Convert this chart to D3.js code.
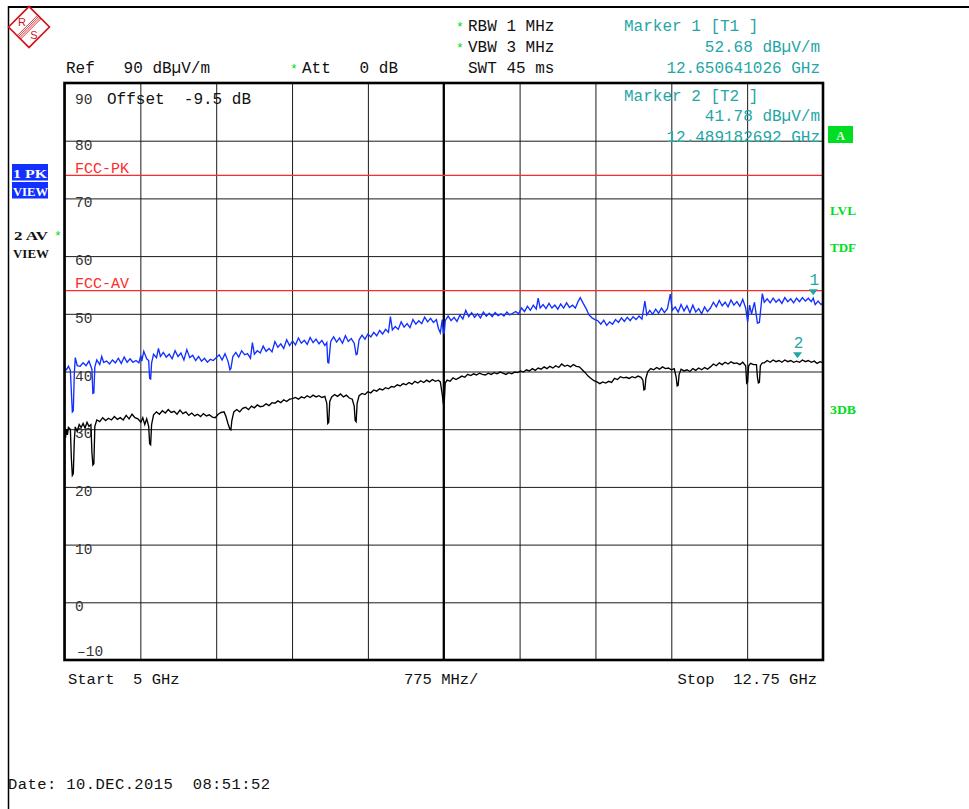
<!DOCTYPE html>
<html><head><meta charset="utf-8">
<script src="https://cdn.jsdelivr.net/npm/d3@7/dist/d3.min.js"></script>
<style>
html,body{margin:0;padding:0;background:#fff;}
svg{display:block;}
text{font-family:"Liberation Mono","DejaVu Sans Mono",monospace;white-space:pre;}
</style></head>
<body>
<svg id="c" width="969" height="809"></svg>
<script>
// ---------- data ----------
const startGHz = 5, stopGHz = 12.75;
const refLevel = 90, bottomLevel = -10;
const xGridGHz = [5, 5.775, 6.55, 7.325, 8.1, 8.875, 9.65, 10.425, 11.2, 11.975, 12.75];
const yTicks = [90, 80, 70, 60, 50, 40, 30, 20, 10, 0, -10];
const yTickLabels = ["90", "80", "70", "60", "50", "40", "30", "20", "10", "0", "\u201310"];
const limitNames = ["FCC-PK", "FCC-AV"];
const limitValues = [74, 54];
const markerNames = ["1", "2"];
const markerGHz = [12.650641026, 12.489182692];
const markerDb = [52.68, 41.78];
const headerLeft = ["RBW 1 MHz", "VBW 3 MHz", "SWT 45 ms"];
const markerText = ["Marker 1 [T1 ]", "52.68 dB\u00B5V/m", "12.650641026 GHz", "Marker 2 [T2 ]", "41.78 dB\u00B5V/m", "12.489182692 GHz"];

const pkTrace = [[5.00,40.6],[5.02,40.3],[5.04,40.9],[5.06,40.2],[5.07,36.5],[5.08,33.0],[5.09,33.2],[5.10,39.5],[5.11,42.4],[5.13,41.0],[5.16,40.9],[5.19,41.5],[5.22,41.0],[5.25,41.8],[5.28,40.4],[5.29,36.2],[5.30,36.3],[5.31,40.8],[5.33,42.0],[5.36,41.2],[5.38,42.6],[5.40,41.6],[5.43,41.8],[5.46,41.3],[5.49,42.0],[5.52,41.5],[5.55,42.3],[5.58,41.4],[5.61,42.5],[5.64,41.6],[5.67,42.2],[5.70,41.6],[5.73,41.9],[5.76,41.5],[5.78,42.8],[5.79,41.8],[5.81,43.5],[5.84,42.2],[5.86,41.9],[5.87,38.8],[5.88,38.7],[5.89,41.5],[5.91,43.0],[5.94,42.4],[5.96,44.0],[5.98,42.6],[6.01,43.3],[6.04,42.5],[6.07,43.0],[6.10,42.2],[6.13,43.6],[6.16,42.6],[6.19,43.2],[6.22,42.0],[6.25,43.8],[6.28,42.4],[6.31,42.8],[6.34,41.9],[6.37,42.6],[6.40,41.8],[6.43,42.3],[6.46,41.6],[6.49,42.1],[6.52,41.9],[6.55,42.4],[6.58,42.9],[6.61,42.0],[6.64,43.1],[6.67,41.8],[6.69,40.3],[6.70,40.5],[6.72,42.6],[6.75,43.3],[6.78,42.5],[6.81,43.6],[6.84,42.9],[6.87,43.1],[6.90,42.3],[6.92,45.0],[6.94,43.0],[6.97,43.6],[7.00,43.2],[7.03,44.4],[7.06,43.5],[7.09,44.0],[7.12,43.4],[7.15,45.2],[7.18,44.2],[7.21,44.8],[7.24,44.0],[7.27,45.5],[7.30,44.5],[7.33,45.3],[7.36,44.6],[7.39,45.8],[7.42,44.9],[7.45,45.4],[7.48,44.7],[7.51,45.9],[7.54,45.0],[7.57,45.6],[7.60,44.8],[7.63,45.4],[7.66,44.5],[7.68,45.0],[7.69,41.6],[7.70,41.5],[7.72,45.2],[7.75,46.0],[7.78,45.1],[7.81,45.8],[7.84,44.9],[7.87,46.2],[7.90,45.2],[7.93,45.7],[7.96,44.9],[7.98,42.9],[7.99,43.0],[8.01,45.5],[8.04,46.3],[8.07,45.6],[8.10,46.5],[8.13,46.0],[8.16,46.8],[8.19,46.2],[8.22,47.1],[8.25,46.5],[8.28,47.3],[8.31,46.8],[8.33,49.5],[8.35,47.2],[8.38,47.8],[8.41,47.3],[8.44,48.6],[8.47,47.7],[8.50,48.3],[8.53,47.6],[8.56,49.0],[8.59,48.2],[8.62,48.8],[8.65,48.3],[8.68,49.4],[8.71,48.6],[8.74,49.2],[8.77,48.5],[8.80,49.0],[8.82,47.5],[8.84,46.7],[8.86,49.0],[8.87,46.8],[8.88,46.6],[8.89,48.8],[8.92,49.6],[8.95,48.8],[8.98,49.4],[9.01,48.7],[9.04,49.8],[9.07,49.1],[9.10,50.6],[9.13,49.5],[9.16,50.2],[9.19,49.4],[9.22,50.0],[9.25,49.3],[9.28,50.3],[9.31,49.6],[9.34,50.1],[9.37,49.5],[9.40,50.2],[9.43,49.7],[9.46,50.0],[9.49,49.6],[9.52,50.3],[9.55,49.8],[9.58,50.1],[9.61,50.4],[9.64,50.0],[9.67,51.0],[9.70,50.4],[9.73,51.3],[9.76,50.6],[9.79,51.5],[9.82,50.8],[9.84,52.7],[9.86,51.0],[9.89,51.6],[9.92,50.9],[9.95,51.8],[9.98,51.0],[10.01,51.5],[10.04,50.8],[10.07,51.7],[10.10,51.0],[10.13,51.9],[10.16,51.1],[10.19,51.5],[10.22,51.0],[10.25,52.2],[10.27,52.8],[10.30,51.8],[10.33,50.9],[10.36,49.8],[10.39,49.3],[10.42,49.0],[10.45,48.8],[10.48,48.2],[10.51,48.9],[10.54,48.0],[10.57,48.6],[10.60,48.2],[10.63,49.0],[10.66,48.5],[10.69,49.3],[10.72,48.7],[10.75,49.4],[10.78,48.8],[10.81,49.5],[10.84,49.0],[10.87,49.6],[10.90,49.1],[10.93,52.2],[10.95,49.8],[10.98,50.6],[11.01,49.9],[11.04,50.8],[11.07,50.1],[11.10,51.0],[11.13,50.2],[11.16,50.9],[11.19,53.4],[11.21,50.6],[11.24,51.2],[11.27,50.3],[11.30,51.6],[11.33,50.5],[11.36,51.4],[11.39,50.2],[11.42,51.5],[11.45,50.3],[11.48,50.9],[11.51,50.0],[11.54,51.2],[11.57,50.4],[11.60,51.0],[11.63,52.0],[11.66,51.2],[11.69,52.3],[11.72,51.4],[11.75,52.0],[11.78,51.2],[11.81,52.4],[11.84,51.5],[11.87,52.1],[11.90,51.3],[11.93,52.5],[11.96,51.0],[11.98,48.6],[12.00,51.5],[12.02,50.0],[12.05,52.0],[12.08,48.4],[12.10,48.5],[12.12,51.8],[12.13,53.5],[12.15,52.0],[12.18,52.6],[12.21,51.9],[12.24,52.7],[12.27,52.0],[12.30,52.5],[12.33,51.8],[12.36,52.8],[12.39,52.1],[12.42,52.6],[12.45,51.9],[12.48,52.7],[12.51,52.1],[12.54,52.8],[12.57,52.2],[12.60,52.7],[12.63,52.1],[12.65,52.7],[12.67,51.6],[12.70,52.2],[12.73,51.6],[12.75,51.9]];

const avTrace = [[5.00,30.2],[5.01,28.5],[5.02,30.0],[5.03,29.0],[5.04,30.3],[5.06,30.0],[5.07,25.0],[5.08,22.0],[5.09,22.3],[5.10,28.0],[5.11,30.4],[5.13,29.6],[5.15,30.8],[5.17,30.3],[5.19,31.0],[5.21,30.2],[5.23,31.2],[5.25,30.5],[5.27,30.8],[5.28,26.0],[5.29,23.8],[5.30,24.0],[5.31,30.5],[5.33,31.6],[5.36,31.3],[5.39,32.0],[5.42,31.5],[5.45,31.9],[5.48,31.6],[5.51,32.2],[5.54,31.7],[5.57,32.0],[5.60,31.6],[5.63,32.4],[5.66,31.8],[5.69,32.6],[5.72,32.0],[5.75,31.8],[5.78,31.2],[5.80,32.0],[5.82,30.8],[5.84,31.8],[5.86,30.5],[5.87,27.5],[5.88,27.3],[5.89,30.8],[5.91,32.5],[5.94,33.0],[5.97,32.6],[6.00,33.2],[6.03,32.8],[6.06,33.4],[6.09,32.9],[6.12,33.1],[6.15,32.6],[6.18,33.3],[6.21,32.7],[6.24,33.0],[6.27,32.4],[6.30,32.8],[6.33,32.3],[6.36,32.6],[6.39,32.2],[6.42,32.7],[6.45,32.3],[6.48,32.5],[6.51,32.1],[6.54,32.0],[6.57,32.6],[6.60,32.9],[6.63,33.0],[6.65,32.2],[6.67,31.0],[6.69,30.0],[6.70,29.9],[6.71,31.5],[6.73,33.0],[6.76,33.4],[6.79,33.0],[6.82,33.6],[6.85,33.8],[6.88,33.4],[6.91,34.0],[6.94,33.7],[6.97,34.2],[7.00,33.9],[7.03,34.0],[7.06,34.4],[7.09,34.1],[7.12,34.6],[7.15,34.5],[7.18,34.9],[7.21,34.6],[7.24,35.1],[7.27,34.8],[7.30,35.2],[7.33,35.3],[7.36,35.5],[7.39,35.2],[7.42,35.6],[7.45,35.4],[7.48,35.8],[7.51,35.5],[7.54,35.9],[7.57,35.6],[7.60,35.8],[7.63,35.5],[7.66,35.7],[7.68,34.5],[7.69,31.0],[7.70,31.2],[7.71,34.8],[7.73,35.6],[7.76,36.0],[7.79,35.7],[7.82,36.1],[7.85,35.6],[7.88,35.9],[7.91,35.4],[7.94,35.2],[7.96,34.0],[7.97,31.5],[7.98,31.3],[7.99,34.5],[8.01,35.8],[8.04,36.2],[8.07,36.0],[8.10,36.5],[8.13,36.3],[8.16,36.8],[8.19,36.6],[8.22,37.0],[8.25,36.8],[8.28,37.2],[8.31,37.0],[8.34,37.4],[8.37,37.3],[8.40,37.7],[8.43,37.5],[8.46,37.9],[8.49,37.7],[8.52,38.1],[8.55,37.8],[8.58,38.3],[8.61,38.0],[8.64,38.4],[8.67,38.1],[8.70,38.5],[8.73,38.2],[8.76,38.6],[8.79,38.3],[8.82,38.5],[8.84,38.2],[8.86,36.0],[8.87,34.5],[8.88,34.6],[8.89,38.0],[8.91,38.5],[8.94,38.3],[8.97,38.9],[9.00,38.6],[9.03,38.9],[9.06,39.2],[9.09,39.0],[9.12,39.5],[9.15,39.3],[9.18,39.6],[9.21,39.4],[9.24,39.7],[9.27,39.5],[9.30,39.4],[9.33,39.7],[9.36,39.5],[9.39,39.8],[9.42,39.6],[9.45,39.9],[9.48,39.7],[9.51,39.5],[9.54,39.8],[9.57,39.6],[9.60,39.9],[9.63,39.8],[9.66,40.1],[9.69,39.9],[9.72,40.3],[9.75,40.1],[9.78,40.5],[9.81,40.2],[9.84,40.6],[9.87,40.4],[9.90,40.8],[9.93,40.5],[9.96,40.9],[9.99,40.6],[10.02,41.0],[10.05,40.7],[10.08,41.3],[10.11,40.9],[10.14,41.1],[10.17,40.8],[10.20,41.2],[10.23,40.9],[10.26,40.8],[10.29,40.3],[10.32,39.8],[10.35,39.2],[10.38,38.8],[10.41,38.4],[10.44,38.2],[10.47,37.9],[10.50,38.2],[10.53,38.0],[10.56,38.3],[10.59,38.1],[10.62,38.8],[10.65,38.6],[10.68,39.1],[10.71,38.9],[10.74,39.0],[10.77,38.8],[10.80,39.1],[10.83,38.9],[10.86,39.2],[10.89,39.0],[10.91,38.5],[10.92,36.8],[10.93,36.9],[10.94,38.8],[10.96,40.0],[10.99,40.5],[11.02,40.3],[11.05,40.7],[11.08,40.4],[11.11,40.8],[11.14,40.5],[11.17,40.6],[11.20,40.3],[11.23,40.5],[11.25,39.0],[11.26,37.5],[11.27,37.6],[11.28,39.5],[11.30,40.4],[11.33,40.1],[11.36,40.3],[11.39,40.0],[11.42,40.5],[11.45,40.2],[11.48,40.6],[11.51,40.3],[11.54,40.7],[11.57,40.4],[11.60,40.8],[11.63,41.3],[11.66,41.0],[11.69,41.5],[11.72,41.2],[11.75,41.6],[11.78,41.3],[11.81,41.7],[11.84,41.4],[11.87,41.5],[11.90,41.2],[11.93,41.6],[11.96,41.0],[11.97,38.0],[11.98,38.2],[11.99,41.0],[12.01,41.4],[12.04,41.2],[12.07,41.2],[12.08,39.0],[12.09,38.0],[12.10,38.1],[12.11,41.0],[12.13,41.5],[12.15,41.5],[12.18,41.9],[12.21,41.6],[12.24,42.0],[12.27,41.7],[12.30,41.9],[12.33,41.6],[12.36,42.0],[12.39,41.7],[12.42,41.9],[12.45,41.6],[12.48,41.8],[12.51,41.6],[12.54,42.0],[12.57,41.7],[12.60,41.9],[12.63,41.6],[12.66,41.8],[12.69,41.4],[12.72,41.7],[12.75,41.5]];

// ---------- drawing ----------
const svg = d3.select("#c");
const L = 64.5, R = 823, T = 83, B = 660;
const x = d3.scaleLinear().domain([startGHz, stopGHz]).range([L, R]);
const y = d3.scaleLinear().domain([bottomLevel, refLevel]).range([B, T]);

const TEAL = "#1fa6a6", RED = "#ff2a2a", GREEN = "#00dd22", BLUE = "#1230ff";

// page frame
svg.append("line").attr("x1", 8).attr("x2", 969).attr("y1", 7).attr("y2", 7).attr("stroke", "#000").attr("stroke-width", 2.2);
svg.append("line").attr("x1", 8.5).attr("x2", 8.5).attr("y1", 6).attr("y2", 809).attr("stroke", "#000").attr("stroke-width", 1.5);

// R&S logo
const logo = svg.append("g").attr("transform", "translate(29,27)");
logo.append("rect").attr("x", -14.5).attr("y", -14.5).attr("width", 29).attr("height", 29)
  .attr("transform", "rotate(45)").attr("fill", "none").attr("stroke", "#d0141e").attr("stroke-width", 1.6);
[-2.2, -0.6, 1.0, 2.6].forEach(o => {
  logo.append("line").attr("x1", -14.5).attr("x2", 14.5).attr("y1", o).attr("y2", o)
    .attr("transform", "rotate(-45)").attr("stroke", "#d0141e").attr("stroke-width", 0.8);
});
logo.append("text").attr("x", -7).attr("y", -1).attr("text-anchor", "middle").attr("fill", "#d0141e")
  .style("font-family", "'Liberation Sans',Arial,sans-serif").style("font-size", "11px").text("R");
logo.append("text").attr("x", 5).attr("y", 11.5).attr("text-anchor", "middle").attr("fill", "#d0141e")
  .style("font-family", "'Liberation Sans',Arial,sans-serif").style("font-size", "11px").text("S");

// grid via axes
const gx = svg.append("g").attr("transform", `translate(0,${B})`)
  .call(d3.axisBottom(x).tickValues(xGridGHz).tickSize(-(B - T)).tickFormat(""));
gx.select(".domain").remove();
gx.selectAll("line").attr("stroke", "#1a1a1a").attr("stroke-width", 1);
const gy = svg.append("g").attr("transform", `translate(${L},0)`)
  .call(d3.axisLeft(y).tickValues(yTicks).tickSize(-(R - L)).tickFormat(""));
gy.select(".domain").remove();
gy.selectAll("line").attr("stroke", "#1a1a1a").attr("stroke-width", 1);
// centre line
svg.append("line").attr("x1", x(xGridGHz[5])).attr("x2", x(xGridGHz[5])).attr("y1", T).attr("y2", B)
  .attr("stroke", "#000").attr("stroke-width", 2.2);

// y tick labels
svg.append("g").selectAll("text").data(yTicks).join("text")
  .attr("x", (d) => d === -10 ? 77 : 75)
  .attr("y", (d) => d === 90 ? y(d) + 21 : (d === -10 ? y(d) - 4 : y(d) + 9))
  .attr("fill", "#333").style("font-size", "14.5px")
  .text((d, i) => yTickLabels[i]);
svg.append("text").attr("x", 107).attr("y", 104).attr("fill", "#111").style("font-size", "16px")
  .text("Offset  -9.5 dB");

// limit lines
limitValues.forEach((v, i) => {
  svg.append("line").attr("x1", L).attr("x2", R).attr("y1", y(v)).attr("y2", y(v))
    .attr("stroke", RED).attr("stroke-width", 1.2);
  svg.append("text").attr("x", 75).attr("y", y(v) - 2.5).attr("fill", RED).style("font-size", "15px").text(limitNames[i]);
});

// traces
svg.append("clipPath").attr("id", "clip").append("rect").attr("x", L).attr("y", T).attr("width", R - L).attr("height", B - T);
const line = d3.line().x(d => x(d[0])).y(d => y(d[1]));
svg.append("path").datum(avTrace).attr("d", line).attr("fill", "none").attr("stroke", "#000")
  .attr("stroke-width", 1.35).attr("clip-path", "url(#clip)");
svg.append("path").datum(pkTrace).attr("d", line).attr("fill", "none").attr("stroke", BLUE)
  .attr("stroke-width", 1.35).attr("clip-path", "url(#clip)");

// plot border
svg.append("rect").attr("x", L).attr("y", T).attr("width", R - L).attr("height", B - T)
  .attr("fill", "none").attr("stroke", "#000").attr("stroke-width", 2.6);

// markers
markerGHz.forEach((f, i) => {
  const mx = x(f), my = y(markerDb[i]) - 3;
  svg.append("path").attr("d", `M${mx - 4.5},${my - 6}L${mx + 4.5},${my - 6}L${mx},${my}Z`).attr("fill", TEAL);
  svg.append("text").attr("x", mx + 1).attr("y", my - 10).attr("text-anchor", "middle").attr("fill", TEAL)
    .style("font-size", "16px").text(markerNames[i]);
});

// header text
const hdr = svg.append("g").style("font-size", "16px");
[31, 52, 73].forEach((yy, i) => {
  hdr.append("text").attr("x", 468).attr("y", yy).attr("fill", "#111").text(headerLeft[i]);
});
[31, 52].forEach(yy => hdr.append("text").attr("x", 456).attr("y", yy).attr("fill", GREEN).style("font-size", "13px").text("*"));
hdr.append("text").attr("x", 66).attr("y", 73).attr("fill", "#111").text("Ref   90 dB\u00B5V/m");
hdr.append("text").attr("x", 290).attr("y", 73).attr("fill", GREEN).style("font-size", "13px").text("*");
hdr.append("text").attr("x", 302).attr("y", 73).attr("fill", "#111").text("Att   0 dB");
[31, 52, 73, 101, 121, 142].forEach((yy, i) => {
  const t = hdr.append("text").attr("y", yy).attr("fill", TEAL).text(markerText[i]);
  if (i % 3 === 0) t.attr("x", 624); else t.attr("x", 820).attr("text-anchor", "end");
});

// bottom text
const bt = svg.append("g").style("font-size", "15.5px").attr("fill", "#111");
bt.append("text").attr("x", 68).attr("y", 684).text("Start  5 GHz");
bt.append("text").attr("x", 404).attr("y", 684).text("775 MHz/");
bt.append("text").attr("x", 817).attr("y", 684).attr("text-anchor", "end").text("Stop  12.75 GHz");
bt.append("text").attr("x", 8).attr("y", 789).attr("textLength", 262).attr("lengthAdjust", "spacing")
  .text("Date: 10.DEC.2015  08:51:52");

// left side trace labels
const lf = "'Liberation Serif','DejaVu Serif',serif";
svg.append("rect").attr("x", 12).attr("y", 164).attr("width", 36).attr("height", 16.5).attr("fill", BLUE);
svg.append("rect").attr("x", 12).attr("y", 182).attr("width", 36).attr("height", 16.5).attr("fill", BLUE);
svg.append("text").attr("x", 13).attr("y", 178).attr("fill", "#fff").style("font-family", lf).style("font-weight", "bold")
  .style("font-size", "12px").attr("textLength", 34).attr("lengthAdjust", "spacingAndGlyphs").text("1 PK");
svg.append("text").attr("x", 13).attr("y", 196).attr("fill", "#fff").style("font-family", lf).style("font-weight", "bold")
  .style("font-size", "12px").attr("textLength", 35).attr("lengthAdjust", "spacingAndGlyphs").text("VIEW");
svg.append("text").attr("x", 14).attr("y", 240).attr("fill", "#111").style("font-family", lf).style("font-weight", "bold")
  .style("font-size", "12px").attr("textLength", 34).attr("lengthAdjust", "spacingAndGlyphs").text("2 AV");
svg.append("text").attr("x", 54).attr("y", 240).attr("fill", GREEN).style("font-size", "13px").text("*");
svg.append("text").attr("x", 13).attr("y", 258).attr("fill", "#111").style("font-family", lf).style("font-weight", "bold")
  .style("font-size", "12px").attr("textLength", 36).attr("lengthAdjust", "spacingAndGlyphs").text("VIEW");

// right side status labels
svg.append("rect").attr("x", 828).attr("y", 126).attr("width", 25).attr("height", 17).attr("fill", GREEN);
svg.append("text").attr("x", 840.5).attr("y", 140).attr("text-anchor", "middle").attr("fill", "#e8ffe8")
  .style("font-family", lf).style("font-weight", "bold").style("font-size", "12px").text("A");
[["LVL", 215], ["TDF", 252], ["3DB", 414]].forEach(([t, yy]) => {
  svg.append("text").attr("x", 830).attr("y", yy).attr("fill", GREEN).style("font-family", lf).style("font-weight", "bold")
    .style("font-size", "12px").attr("textLength", 26).attr("lengthAdjust", "spacingAndGlyphs").text(t);
});
</script>
</body></html>
